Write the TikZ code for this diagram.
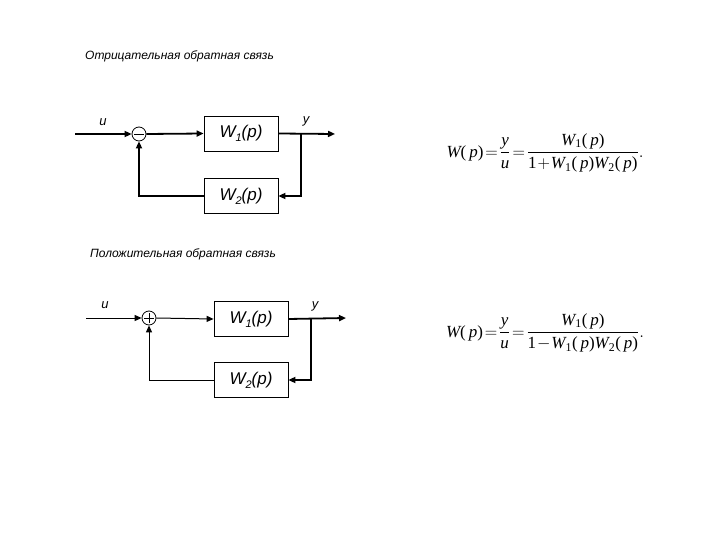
\documentclass[tikz,border=0pt]{standalone}
\usepackage{fontspec}
\usepackage{amsmath}
\setmainfont{Liberation Serif}
\setsansfont{Liberation Sans}
\usetikzlibrary{arrows.meta}
\newcommand\fit[1]{\textit{#1}}
\newcommand\up[1]{\textup{#1}}
\newcommand\sbs[1]{\raisebox{-0.45ex}{\fontsize{11}{12}\selectfont #1}}
\newcommand\fp{\up{(}\,\fit{p}\up{)}}
\begin{document}
\begin{tikzpicture}[x=1pt,y=-1pt,
  blk/.style={draw,line width=0.8pt,minimum width=74pt,minimum height=35pt,inner sep=0pt,font=\sffamily\itshape\fontsize{17}{19}\selectfont},
  sumc/.style={draw,circle,line width=0.8pt,minimum size=14pt,inner sep=0pt},
  thk/.style={line width=1.8pt},
  thn/.style={line width=1pt},
  arr/.style={-{Triangle[length=7pt,width=6pt]}},
  lbl/.style={font=\sffamily\itshape\fontsize{13}{15}\selectfont,inner sep=0pt},
  ttl/.style={font=\sffamily\itshape\fontsize{12}{14}\selectfont,anchor=west,inner sep=0pt},
  frm/.style={font=\fontsize{17}{20}\selectfont,inner sep=0pt}]
\useasboundingbox (0,0) rectangle (720,540);
\fill[white] (0,0) rectangle (720,540);
% ---------- negative feedback ----------
\node[ttl] (t1) at (85,56) {Отрицательная обратная связь};
\coordinate (in1) at (75,134);
\node[sumc] (s1) at (139,134) {};
\draw[line width=0.8pt] ([xshift=-5pt]s1.center) -- ([xshift=5pt]s1.center);
\node[blk] (a1) at (241,133.5) {W\sbs{1}(p)};
\node[blk] (b1) at (241,196) {W\sbs{2}(p)};
\coordinate (br1) at (301,134);
\coordinate (out1) at (335,134);
\coordinate (fr1) at (301,196);
\coordinate (fl1) at (139,196);
\node[lbl] (u1) at (103,122) {u};
\node[lbl] (y1) at (306,121) {y};
\draw[thk,arr] (in1) -- (s1.west);
\draw[thk,arr] (s1.east) -- (a1.west);
\draw[thk,arr] (a1.east) -- (out1);
\draw[thk,arr] (br1) -- (fr1) -- (b1.east);
\draw[thk,arr] (b1.west) -- (fl1) -- (s1.south);
\node[frm] (f1) at (545,153) {\thickmuskip=2mu\medmuskip=1mu
  $\fit{W}\fp=\dfrac{\fit{y}}{\fit{u}}=\dfrac{\fit{W}_{\text{1}}\fp}{\text{1}+\fit{W}_{\text{1}}\fp\fit{W}_{\text{2}}\fp}.$};
% ---------- positive feedback ----------
\node[ttl] (t2) at (90,254) {Положительная обратная связь};
\coordinate (in2) at (86,318);
\node[sumc] (s2) at (149,318) {};
\draw[line width=0.8pt] ([xshift=-5pt]s2.center) -- ([xshift=5pt]s2.center);
\draw[line width=0.8pt] ([yshift=-5pt]s2.center) -- ([yshift=5pt]s2.center);
\node[blk] (a2) at (251,319) {W\sbs{1}(p)};
\node[blk] (b2) at (251,380) {W\sbs{2}(p)};
\coordinate (br2) at (311,318);
\coordinate (out2) at (346,318);
\coordinate (fr2) at (311,380);
\coordinate (fl2) at (149,380);
\node[lbl] (u2) at (105,305) {u};
\node[lbl] (y2) at (315,306) {y};
\draw[thn,arr] (in2) -- (s2.west);
\draw[thn,arr] (s2.east) -- (a2.west);
\draw[thk,arr] (a2.east) -- (out2);
\draw[thk,arr] (br2) -- (fr2) -- (b2.east);
\draw[thn,arr] (b2.west) -- (fl2) -- (s2.south);
\node[frm] (f2) at (545,333) {\thickmuskip=2mu\medmuskip=1mu
  $\fit{W}\fp=\dfrac{\fit{y}}{\fit{u}}=\dfrac{\fit{W}_{\text{1}}\fp}{\text{1}-\fit{W}_{\text{1}}\fp\fit{W}_{\text{2}}\fp}.$};
\end{tikzpicture}
\end{document}
